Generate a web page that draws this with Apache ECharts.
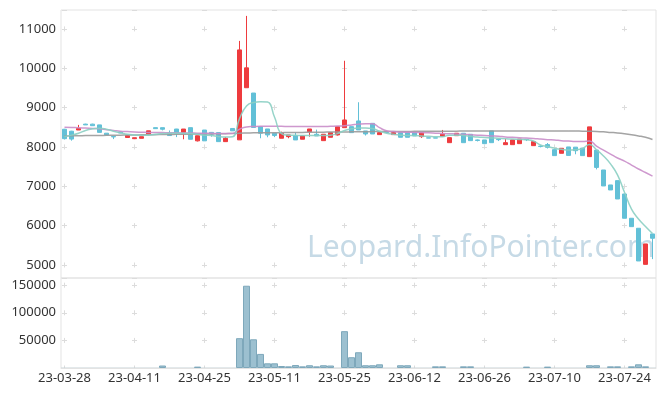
<!DOCTYPE html>
<html><head><meta charset="utf-8">
<script src="https://cdn.jsdelivr.net/npm/echarts@6/dist/echarts.min.js"></script>
<style>html,body{margin:0;padding:0;background:#fff}#c{width:665px;height:396px}</style>
</head><body><div id="c"></div>
<script>
const dates = ['23-03-28','23-03-29','23-03-30','23-03-31','23-04-03','23-04-04','23-04-05','23-04-06','23-04-07','23-04-10',
'23-04-11','23-04-12','23-04-13','23-04-14','23-04-17','23-04-18','23-04-19','23-04-20','23-04-21','23-04-24',
'23-04-25','23-04-26','23-04-27','23-04-28','23-05-02','23-05-03','23-05-04','23-05-08','23-05-09','23-05-10',
'23-05-11','23-05-12','23-05-15','23-05-16','23-05-17','23-05-18','23-05-19','23-05-22','23-05-23','23-05-24',
'23-05-25','23-05-26','23-05-30','23-05-31','23-06-01','23-06-02','23-06-05','23-06-07','23-06-08','23-06-09',
'23-06-12','23-06-13','23-06-14','23-06-15','23-06-16','23-06-19','23-06-20','23-06-21','23-06-22','23-06-23',
'23-06-26','23-06-27','23-06-28','23-06-29','23-06-30','23-07-03','23-07-04','23-07-05','23-07-06','23-07-07',
'23-07-10','23-07-11','23-07-12','23-07-13','23-07-14','23-07-17','23-07-18','23-07-19','23-07-20','23-07-21',
'23-07-24','23-07-25','23-07-26','23-07-27','23-07-28'];

// [open, close, low, high]
const ohlc = [
[8450,8210,8190,8460],[8400,8200,8160,8410],[8430,8470,8430,8560],[8580,8560,8560,8590],[8580,8540,8540,8590],
[8560,8370,8370,8560],[8350,8305,8300,8350],[8265,8255,8200,8270],[8380,8355,8350,8390],[8240,8290,8240,8290],
[8210,8235,8200,8235],[8220,8260,8220,8260],[8330,8410,8330,8410],[8490,8465,8465,8490],[8490,8450,8420,8490],
[8345,8290,8290,8420],[8455,8350,8250,8460],[8370,8455,8195,8455],[8490,8195,8195,8490],[8155,8285,8140,8285],
[8430,8155,8155,8430],[8370,8325,8260,8380],[8365,8135,8135,8365],[8135,8220,8135,8250],[8470,8410,8410,8470],
[8180,10466,8180,10695],[9505,10010,9505,11330],[9370,8495,8495,9370],[8516,8348,8221,8516],[8457,8305,8246,8457],
[8348,8290,8250,8348],[8221,8348,8221,8389],[8262,8305,8221,8305],[8287,8178,8178,8364],[8196,8280,8196,8280],
[8389,8457,8262,8457],[8322,8280,8280,8440],[8160,8322,8160,8322],[8246,8364,8246,8364],[8305,8516,8290,8516],
[8490,8686,8490,10190],[8516,8364,8364,8516],[8661,8432,8432,9136],[8407,8330,8290,8407],[8600,8330,8330,8600],
[8313,8364,8313,8364],[8380,8370,8370,8385],[8313,8364,8313,8400],[8364,8246,8246,8364],[8364,8246,8246,8364],
[8364,8280,8280,8364],[8262,8364,8230,8364],[8232,8225,8225,8235],[8232,8225,8225,8235],[8272,8322,8272,8432],
[8109,8236,8109,8236],[8287,8348,8287,8348],[8348,8109,8109,8348],[8322,8160,8160,8322],[8178,8165,8140,8190],
[8178,8084,8084,8178],[8407,8109,8109,8407],[8200,8185,8150,8205],[8058,8109,8058,8200],[8058,8178,8058,8178],
[8084,8200,8084,8200],[8195,8185,8150,8200],[8033,8135,8033,8135],[8020,8010,7990,8040],[8060,7990,7960,8100],
[7931,7780,7780,7931],[7839,7966,7839,7966],[8000,7785,7785,8000],[7995,7905,7814,7995],[7970,7780,7780,7970],
[7754,8510,7754,8510],[7920,7480,7430,7920],[7415,7009,7009,7415],[7034,6907,6907,7034],[7144,6678,6678,7144],
[6805,6188,6188,6805],[6188,5975,5975,6188],[5934,5103,5103,5934],[5017,5535,5017,5535],[5790,5680,5150,5790]];

const volumes = [
300,300,300,300,300,300,300,300,300,300,
300,300,300,300,4500,300,300,300,300,2500,
300,300,300,300,300,54000,149000,52000,25500,8500,
8500,3600,3000,5400,3000,5000,3000,5000,4500,300,
66700,19500,28500,5000,5000,6700,300,300,5000,5000,
300,300,300,3000,3000,300,300,3000,3000,300,
300,300,300,300,300,300,2500,300,300,2500,
300,300,300,300,300,5000,5000,300,3000,3000,
300,3000,6700,3000,300];

const ma5 = [
8262,8300,8350,8420,8460,8475,8450,8400,8360,8320,
8305,8300,8300,8320,8340,8345,8350,8350,8340,8320,
8300,8290,8262,8250,8260,8720,9040,9130,9150,9140,
8760,8340,8300,8295,8290,8290,8290,8290,8300,8340,
8420,8460,8480,8480,8470,8400,8350,8320,8300,8290,
8290,8280,8270,8260,8260,8300,8300,8290,8270,8250,
8240,8230,8220,8210,8200,8190,8180,8150,8050,8010,
7970,7940,7920,7930,7960,8060,7930,7770,7570,7290,
6850,6420,6170,5980,5800];

const ma20 = [
8500,8495,8490,8480,8470,8460,8440,8420,8400,8390,
8380,8375,8370,8370,8365,8360,8360,8355,8355,8350,
8350,8345,8340,8340,8345,8450,8510,8520,8525,8525,
8525,8525,8520,8520,8520,8520,8520,8520,8525,8530,
8540,8560,8580,8590,8590,8490,8410,8390,8380,8375,
8370,8365,8360,8350,8340,8335,8330,8320,8310,8300,
8290,8280,8270,8255,8245,8235,8225,8215,8200,8185,
8175,8160,8150,8140,8140,8150,8020,7920,7820,7720,
7640,7540,7440,7350,7260];

const ma60 = [
8280,8282,8285,8288,8290,8292,8295,8298,8300,8302,
8305,8308,8310,8312,8315,8318,8320,8322,8325,8328,
8330,8332,8335,8338,8340,8350,8355,8358,8360,8360,
8362,8364,8366,8368,8370,8372,8374,8376,8378,8380,
8382,8384,8386,8388,8390,8391,8392,8393,8394,8395,
8396,8397,8398,8399,8400,8401,8402,8403,8404,8405,
8405,8406,8406,8406,8406,8406,8406,8406,8406,8406,
8405,8405,8404,8403,8402,8400,8395,8385,8370,8355,
8335,8310,8280,8245,8190];

const priceMin = 4670, priceMax = 11480, volMax = 163000;
const watermark = 'Leopard.InfoPointer.com';

const font = {fontFamily:'Noto Sans', fontSize:13, color:'#333'};
const crossColor = '#dcdcdc';
const plain = v => String(v);
// tiny bars: no outline, so they vanish into the baseline like the reference
const volData = volumes.map(v => v < 1000 ? {value:v, itemStyle:{borderWidth:0}} : v);

const chart = echarts.init(document.getElementById('c'), null, {renderer:'canvas'});
chart.setOption({
  animation:false,
  backgroundColor:'#fff',
  graphic:[{type:'text', right:10, top:233, z:-10, silent:true,
    style:{text:watermark, font:'30px "Noto Sans"', fill:'#c6dae6'}}],
  grid:[
    {left:61, right:9, top:10, height:268, show:true, borderColor:'#e3e3e3', borderWidth:1},
    {left:61, right:9, top:278, height:90, show:true, borderColor:'#e3e3e3', borderWidth:1}
  ],
  xAxis:[
    {type:'category', gridIndex:0, data:dates, boundaryGap:true,
      axisLine:{show:false}, axisTick:{show:false}, axisLabel:{show:false},
      splitLine:{show:true, interval:9, alignWithLabel:true,
        lineStyle:{color:crossColor, type:[5,34.35], dashOffset:22.95}}},
    {type:'category', gridIndex:1, data:dates, boundaryGap:true,
      axisLine:{show:true, lineStyle:{color:'#e3e3e3'}}, axisTick:{show:false},
      axisLabel:Object.assign({interval:9, margin:4}, font),
      splitLine:{show:true, interval:9, alignWithLabel:true,
        lineStyle:{color:crossColor, type:[5,22.6], dashOffset:22.9}}}
  ],
  yAxis:[
    {type:'value', gridIndex:0, min:priceMin, max:priceMax, scale:true,
      axisLine:{show:false}, axisTick:{show:false},
      axisLabel:Object.assign({margin:5, showMinLabel:false, showMaxLabel:false, formatter:plain}, font),
      splitLine:{show:true, lineStyle:{color:crossColor, type:[5,65], dashOffset:69}}},
    {type:'value', gridIndex:1, min:0, max:volMax, interval:50000,
      axisLine:{show:false}, axisTick:{show:false},
      axisLabel:Object.assign({margin:5, showMinLabel:false, showMaxLabel:false, formatter:plain}, font),
      splitLine:{show:true, lineStyle:{color:crossColor, type:[5,65], dashOffset:69}}}
  ],
  series:[
    {type:'candlestick', xAxisIndex:0, yAxisIndex:0, data:ohlc, barWidth:5,
      itemStyle:{color:'#ee3b3e', color0:'#62c0d7', borderColor:'#ee3b3e', borderColor0:'#62c0d7', borderWidth:1}},
    {type:'line', xAxisIndex:0, yAxisIndex:0, data:ma60, smooth:true, showSymbol:false,
      lineStyle:{width:1.5, color:'#9a9a9a', opacity:0.9}},
    {type:'line', xAxisIndex:0, yAxisIndex:0, data:ma20, smooth:true, showSymbol:false,
      lineStyle:{width:1.5, color:'#c98dc9', opacity:0.9}},
    {type:'line', xAxisIndex:0, yAxisIndex:0, data:ma5, smooth:true, showSymbol:false,
      lineStyle:{width:1.5, color:'#8bcfc3', opacity:0.9}},
    {type:'bar', xAxisIndex:1, yAxisIndex:1, data:volData, barCategoryGap:'0%',
      itemStyle:{color:'#9cc0d0', borderColor:'#7ea8bb', borderWidth:1}}
  ]
});
</script></body></html>
